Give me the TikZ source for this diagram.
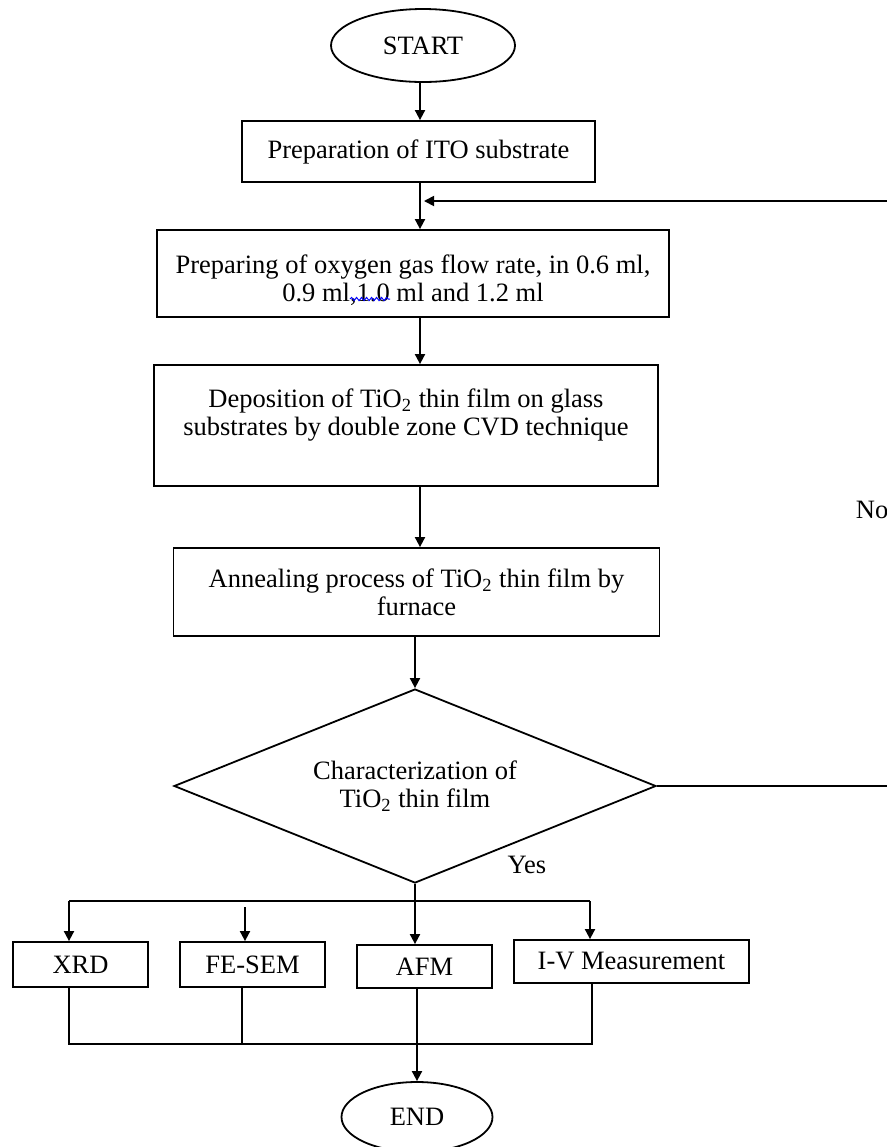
\documentclass[tikz,border=0pt]{standalone}
\usepackage{fontspec}
\setmainfont{Liberation Serif}
\usetikzlibrary{shapes.geometric,arrows.meta,decorations.pathmorphing}
\begin{document}
\begin{tikzpicture}[x=0.5pt,y=-0.5pt,line width=0.9pt,
  flow/.style={font=\fontsize{13.25}{14}\selectfont, align=center, inner sep=0pt},
  procbox/.style={draw, rectangle, flow},
  termbox/.style={draw, ellipse, flow},
  decbox/.style={draw, diamond, flow, aspect=2.5},
  arr/.style={-{Triangle[length=5pt,width=5pt]}}]
\useasboundingbox (0,0) rectangle (887,1147);
\clip (0,0) rectangle (887,1147);
\node[termbox, minimum width=92pt, minimum height=36.5pt] (start) at (423,45.5){START};
\node[procbox, minimum width=176.5pt, minimum height=30.5pt] (prep) at (418.5,151.5){Preparation of ITO substrate};
\node[procbox, minimum width=256pt, minimum height=43.5pt] (oxy) at (413,273.5){};
\node[flow] (oxytext) at (413,280){Preparing of oxygen gas flow rate, in 0.6 ml,\\0.9 ml,1.0 ml and 1.2 ml};
\node[procbox, minimum width=252pt, minimum height=60.5pt] (depo) at (406,425.5){};
\node[flow] (depotext) at (406,415){Deposition of TiO\textsubscript{2} thin film on glass\\substrates by double zone CVD technique};
\node[procbox, minimum width=243pt, minimum height=44pt] (anneal) at (416.5,592){Annealing process of TiO\textsubscript{2} thin film by\\furnace};
\node[decbox, minimum width=241pt, minimum height=97pt] (charac) at (415,786){Characterization of\\TiO\textsubscript{2} thin film};
\node[procbox, minimum width=67.5pt, minimum height=22.5pt] (xrd) at (80.5,964.5){XRD};
\node[procbox, minimum width=72.5pt, minimum height=22.5pt] (fesem) at (252.5,964.5){FE-SEM};
\node[procbox, minimum width=67.5pt, minimum height=21.5pt] (afm) at (424.5,966.5){AFM};
\node[procbox, minimum width=117.5pt, minimum height=21.5pt] (ivm) at (631.5,961.5){I-V Measurement};
\node[termbox, minimum width=75.5pt, minimum height=35pt] (end) at (417,1117){END};
\node[flow, anchor=west] (nolbl) at (855,510){No};
\node[flow] (yeslbl) at (527,865){Yes};
\coordinate (spine) at (420,0);
\coordinate (fb) at (424,201);
\coordinate (rt) at (900,201);
\coordinate (busL) at (69,901);
\coordinate (busR) at (590,901);
\coordinate (semtop) at (245,907);
\coordinate (lowL) at (69,1044);
\coordinate (lowR) at (592,1044);
\coordinate (semlow) at (242,1044);
\draw[arr] (start.south -| spine) -- (prep.north -| spine);
\draw[arr] (prep.south -| spine) -- (oxy.north -| spine);
\draw[arr] (oxy.south -| spine) -- (depo.north -| spine);
\draw[arr] (depo.south -| spine) -- (anneal.north -| spine);
\draw[arr] (anneal.south -| charac.north) -- (charac.north);
\draw (charac.east) -- (charac.east -| rt) -- (rt);
\draw[arr] (rt) -- (fb);
\draw[arr] (charac.south) -- (charac.south |- afm.north);
\draw (busL) -- (busR);
\draw[arr] (busL) -- (busL |- xrd.north);
\draw[arr] (busR) -- (busR |- ivm.north);
\draw[arr] (semtop) -- (semtop |- fesem.north);
\draw (xrd.south -| lowL) -- (lowL) -- (lowR) -- (ivm.south -| lowR);
\draw (fesem.south -| semlow) -- (semlow);
\draw[arr] (afm.south -| end.north) -- (end.north);
\draw[blue, line width=0.5pt, decorate, decoration={snake, amplitude=0.8pt, segment length=2.5pt}] (350,299) -- (390,299);
\end{tikzpicture}
\end{document}
